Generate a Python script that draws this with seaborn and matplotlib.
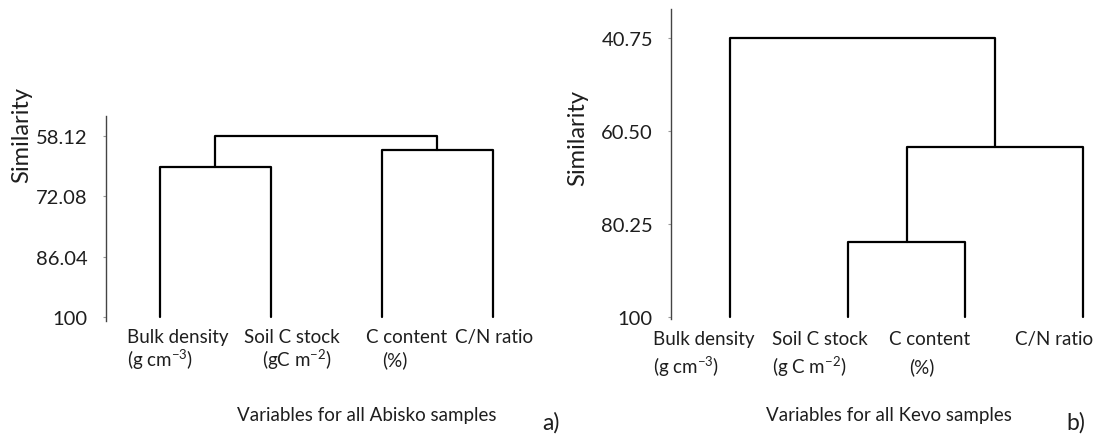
import matplotlib
matplotlib.use("Agg")
import numpy as np
import pandas as pd
import seaborn as sns
import matplotlib.pyplot as plt
from matplotlib.transforms import blended_transform_factory

# ---- data -------------------------------------------------------------
variables = ["Bulk density", "Soil C stock", "C content", "C/N ratio"]
abisko_units = ["(g cm$^{-3}$)", "(gC m$^{-2}$)", "(%)", ""]
kevo_units = ["(g cm$^{-3}$)", "(g C m$^{-2}$)", "(%)", ""]

# linkage tables: node ids >= 4 refer to earlier merges (4 = first merge, ...)
abisko_left = [0, 2, 4]
abisko_right = [1, 3, 5]
abisko_similarity = [65.3, 61.5, 58.12]

kevo_left = [1, 4, 0]
kevo_right = [2, 3, 5]
kevo_similarity = [84.0, 63.9, 40.75]

abisko_ticks = [58.12, 72.08, 86.04, 100]
abisko_ticklabels = ["58.12", "72.08", "86.04", "100"]
kevo_ticks = [40.75, 60.50, 80.25, 100]
kevo_ticklabels = ["40.75", "60.50", "80.25", "100"]

LEAF_LEVEL = 100.0

# ---- style ------------------------------------------------------------
sns.set_theme(style="white")
plt.rcParams["font.family"] = ["Lato", "DejaVu Sans"]
plt.rcParams["mathtext.fontset"] = "custom"
plt.rcParams["mathtext.rm"] = "Lato"
plt.rcParams["mathtext.it"] = "Lato:italic"
plt.rcParams["mathtext.bf"] = "Lato:bold"
TEXT = "#1e1e1e"
LABEL_SIZE = 13.5

W, H = 1098, 439
fig = plt.figure(figsize=(W / 100, H / 100), dpi=100)


def px(x, y):
    return x / W, 1 - y / H


def link_segments(left, right, sim):
    n = len(left) + 1
    xs = {i: float(i) for i in range(n)}
    hs = {i: LEAF_LEVEL for i in range(n)}
    rows = []
    for k, (a, b, h) in enumerate(zip(left, right, sim)):
        pts = [(xs[a], hs[a]), (xs[a], h), (xs[b], h), (xs[b], hs[b])]
        for j, (x, y) in enumerate(pts):
            rows.append({"x": x, "y": y, "link": k, "order": j})
        node = n + k
        xs[node] = (xs[a] + xs[b]) / 2
        hs[node] = h
    return pd.DataFrame(rows)


def draw_panel(rect, left, right, sim, ticks, ticklabels, ylim, xlim,
               units, name_dx, unit_dx, name_y, unit_y):
    ax = fig.add_axes(rect)
    seg = link_segments(left, right, sim)
    sns.lineplot(data=seg, x="x", y="y", units="link", estimator=None,
                 sort=False, color="black", linewidth=1.6, ax=ax, legend=False)
    ax.set_ylim(*ylim)
    ax.set_xlim(*xlim)
    ax.set_yticks(ticks)
    ax.set_yticklabels(ticklabels)
    ax.set_xticks([])
    ax.set_xlabel("")
    ax.set_ylabel("")
    for s in ["top", "right", "bottom"]:
        ax.spines[s].set_visible(False)
    ax.spines["left"].set_color("#444444")
    ax.spines["left"].set_linewidth(1.0)
    ax.tick_params(axis="y", left=True, length=2, width=0.8, colors="#999999",
                   labelcolor=TEXT, labelsize=14.5, pad=11)
    tr = blended_transform_factory(ax.transData, fig.transFigure)
    for i, (v, u) in enumerate(zip(variables, units)):
        ax.text(i + name_dx[i], 1 - name_y / H, v, transform=tr, ha="left",
                va="center", fontsize=LABEL_SIZE, color=TEXT)
        if u:
            ax.text(i + unit_dx[i], 1 - unit_y / H, u, transform=tr, ha="left",
                    va="center", fontsize=LABEL_SIZE, color=TEXT)
    return ax


# panel a) Abisko
draw_panel([106 / W, 1 - 322 / H, 442 / W, 205 / H],
           abisko_left, abisko_right, abisko_similarity,
           abisko_ticks, abisko_ticklabels, (100.9, 53.6), (-0.486, 3.5),
           abisko_units, [-0.30, -0.24, -0.14, -0.34], [-0.30, -0.08, 0.0, 0.0],
           338, 360)

# panel b) Kevo
draw_panel([671 / W, 1 - 320 / H, 424 / W, 310 / H],
           kevo_left, kevo_right, kevo_similarity,
           kevo_ticks, kevo_ticklabels, (100.4, 34.66), (-0.50, 3.1),
           kevo_units, [-0.65, -0.64, -0.65, -0.58], [-0.65, -0.64, -0.48, 0.0],
           340, 367)

fig.text(*px(22, 135), "Similarity", rotation=90, ha="center", va="center",
         fontsize=17, color=TEXT)
fig.text(*px(578, 138), "Similarity", rotation=90, ha="center", va="center",
         fontsize=17, color=TEXT)

fig.text(*px(367, 415), "Variables for all Abisko samples", ha="center",
         va="center", fontsize=LABEL_SIZE, color=TEXT)
fig.text(*px(889, 415), "Variables for all Kevo samples", ha="center",
         va="center", fontsize=LABEL_SIZE, color=TEXT)
fig.text(*px(551, 423), "a)", ha="center", va="center", fontsize=16.5, color=TEXT)
fig.text(*px(1076, 423), "b)", ha="center", va="center", fontsize=16.5, color=TEXT)

fig.savefig("out.png", dpi=100, facecolor="white")
